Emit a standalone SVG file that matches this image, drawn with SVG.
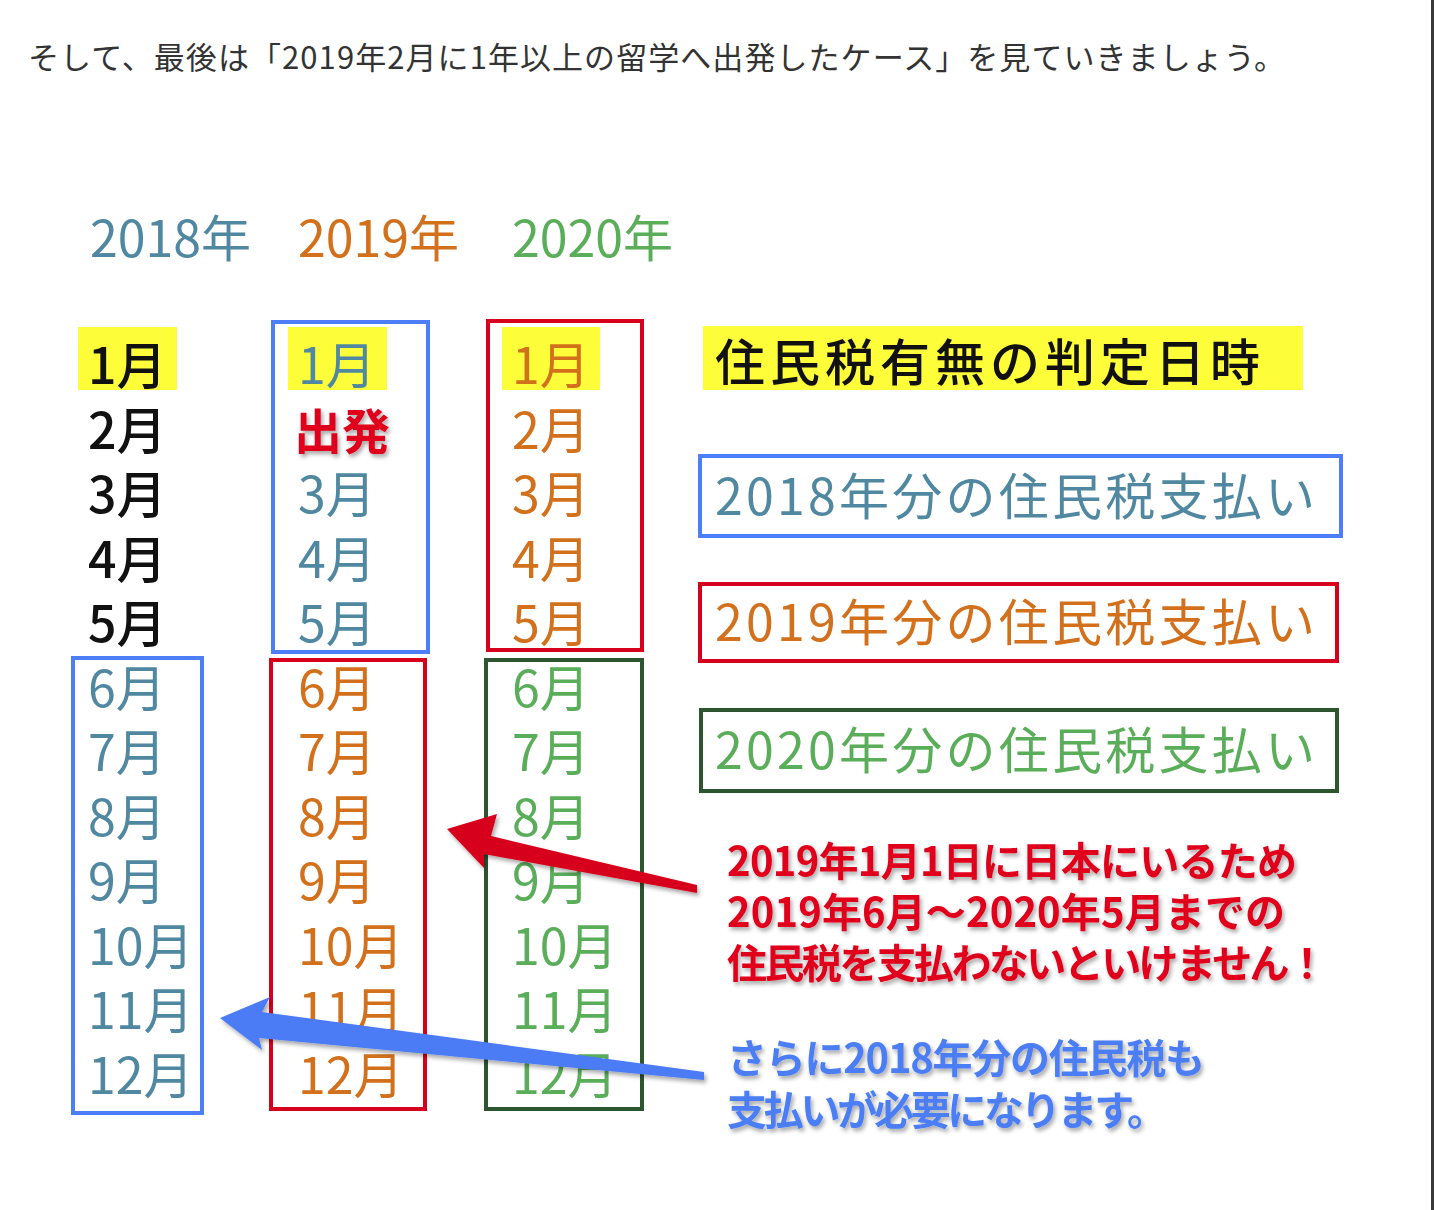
<svg xmlns="http://www.w3.org/2000/svg" width="1434" height="1210" viewBox="0 0 1434 1210">
<defs>
<style>
.jp{font-family:"Noto Sans CJK JP","Noto Sans",sans-serif}
.top{font-size:31px;fill:#333}
.yr{font-size:50px}
.m{font-size:50px}
.k{fill:#111;font-weight:500}
.t{fill:#4f88a0}
.o{fill:#d2701c}
.g{fill:#5aae5a}
.lab{font-size:50px}
.call{font-size:40px;font-weight:bold}
.hl{fill:#fdfd3a}
.bx{fill:none;stroke-width:4}
.sb{stroke:#4d7ef7}
.sr{stroke:#d6001c}
.sg{stroke:#2d5530}
</style>
<filter id="sh" x="-10%" y="-20%" width="130%" height="150%">
<feDropShadow dx="2" dy="3" stdDeviation="2" flood-color="#000" flood-opacity="0.35"/>
</filter>
</defs>
<rect width="1434" height="1210" fill="#fff"/>
<rect x="1431" y="0" width="3" height="1210" fill="#3a3a3a"/>

<g id="intro">
<text class="jp top" x="28" y="69" textLength="1257" lengthAdjust="spacing">そして、最後は「2019年2月に1年以上の留学へ出発したケース」を見ていきましょう。</text>
</g>

<g id="years">
<text class="jp yr t" x="90" y="257">2018年</text>
<text class="jp yr o" x="298" y="257">2019年</text>
<text class="jp yr g" x="512" y="257">2020年</text>
</g>

<g id="highlights">
<rect class="hl" x="78" y="327" width="99" height="63"/>
<rect class="hl" x="288" y="327" width="99" height="63"/>
<rect class="hl" x="502" y="327" width="98" height="63"/>
</g>

<g id="col2018">
<text class="jp m k" x="88" y="384">1月</text>
<text class="jp m k" x="88" y="448.5">2月</text>
<text class="jp m k" x="88" y="513">3月</text>
<text class="jp m k" x="88" y="577.5">4月</text>
<text class="jp m k" x="88" y="642">5月</text>
<text class="jp m t" x="88" y="706.5">6月</text>
<text class="jp m t" x="88" y="771">7月</text>
<text class="jp m t" x="88" y="835.5">8月</text>
<text class="jp m t" x="88" y="900">9月</text>
<text class="jp m t" x="88" y="964.5">10月</text>
<text class="jp m t" x="88" y="1029">11月</text>
<text class="jp m t" x="88" y="1093.5">12月</text>
</g>

<g id="col2019">
<text class="jp m t" x="298" y="384">1月</text>
<text class="jp" x="294" y="449" font-size="48" font-weight="bold" fill="#e0001b" filter="url(#sh)">出発</text>
<text class="jp m t" x="298" y="513">3月</text>
<text class="jp m t" x="298" y="577.5">4月</text>
<text class="jp m t" x="298" y="642">5月</text>
<text class="jp m o" x="298" y="706.5">6月</text>
<text class="jp m o" x="298" y="771">7月</text>
<text class="jp m o" x="298" y="835.5">8月</text>
<text class="jp m o" x="298" y="900">9月</text>
<text class="jp m o" x="298" y="964.5">10月</text>
<text class="jp m o" x="298" y="1029">11月</text>
<text class="jp m o" x="298" y="1093.5">12月</text>
</g>

<g id="col2020">
<text class="jp m o" x="512" y="384">1月</text>
<text class="jp m o" x="512" y="448.5">2月</text>
<text class="jp m o" x="512" y="513">3月</text>
<text class="jp m o" x="512" y="577.5">4月</text>
<text class="jp m o" x="512" y="642">5月</text>
<text class="jp m g" x="512" y="706.5">6月</text>
<text class="jp m g" x="512" y="771">7月</text>
<text class="jp m g" x="512" y="835.5">8月</text>
<text class="jp m g" x="512" y="900">9月</text>
<text class="jp m g" x="512" y="964.5">10月</text>
<text class="jp m g" x="512" y="1029">11月</text>
<text class="jp m g" x="512" y="1093.5">12月</text>
</g>

<g id="period-boxes">
<rect class="bx sb" x="273" y="322" width="155" height="330"/>
<rect class="bx sr" x="488" y="321" width="154" height="329"/>
<rect class="bx sb" x="73" y="658" width="129" height="455"/>
<rect class="bx sr" x="271" y="660" width="154" height="449"/>
<rect class="bx sg" x="486" y="660" width="156" height="449"/>
</g>

<g id="legend-judge">
<rect class="hl" x="703" y="326" width="600" height="64"/>
<text class="jp lab k" x="715" y="381" textLength="545" lengthAdjust="spacing">住民税有無の判定日時</text>
</g>
<g id="legend-2018">
<rect class="bx sb" x="700" y="456" width="641" height="80"/>
<text class="jp lab t" x="715" y="515" textLength="600" lengthAdjust="spacing">2018年分の住民税支払い</text>
</g>
<g id="legend-2019">
<rect class="bx sr" x="700" y="584" width="637" height="77"/>
<text class="jp lab o" x="715" y="641" textLength="600" lengthAdjust="spacing">2019年分の住民税支払い</text>
</g>
<g id="legend-2020">
<rect class="bx sg" x="701" y="710" width="636" height="81"/>
<text class="jp lab g" x="715" y="769" textLength="600" lengthAdjust="spacing">2020年分の住民税支払い</text>
</g>

<g id="connectors">
<polygon filter="url(#sh)" fill="#d6001c" points="447,829 497,814 491,836 697,885 697,893 484,854 484,868"/>
<polygon filter="url(#sh)" fill="#4b7bf5" points="220,1018 270,997 262,1012 704,1072 704,1080 259,1038 262,1050"/>
</g>

<g id="note-red" filter="url(#sh)">
<text class="jp call" fill="#e0001b" x="727" y="876" textLength="570" lengthAdjust="spacing">2019年1月1日に日本にいるため</text>
<text class="jp call" fill="#e0001b" x="727" y="927" textLength="558" lengthAdjust="spacing">2019年6月～2020年5月までの</text>
<text class="jp call" fill="#e0001b" x="727" y="978" textLength="600" lengthAdjust="spacing">住民税を支払わないといけません！</text>
</g>
<g id="note-blue" filter="url(#sh)">
<text class="jp call" fill="#4b7ef5" x="727" y="1073" textLength="478" lengthAdjust="spacing">さらに2018年分の住民税も</text>
<text class="jp call" fill="#4b7ef5" x="727" y="1125" textLength="440" lengthAdjust="spacing">支払いが必要になります。</text>
</g>
</svg>
